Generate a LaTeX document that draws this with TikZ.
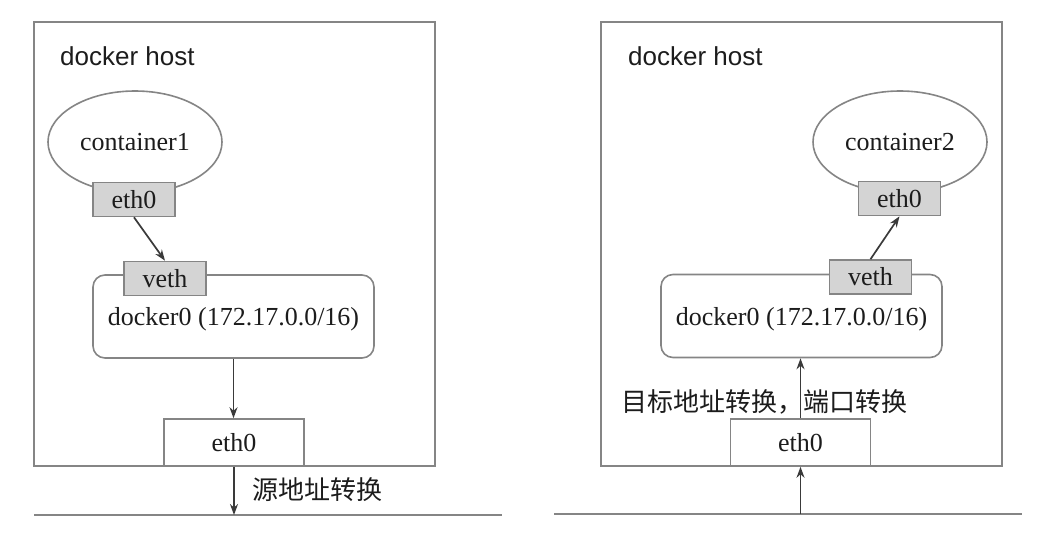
\documentclass[tikz,border=0pt]{standalone}
\usepackage{fontspec}
\setmainfont{Liberation Serif}
\newfontfamily\hostfont{Liberation Sans}
\newfontfamily\cjk{Noto Sans CJK SC}
\usetikzlibrary{shapes.geometric,arrows.meta}
\definecolor{edgegray}{HTML}{858585}
\definecolor{boxfill}{HTML}{D4D4D4}
\definecolor{arrgray}{HTML}{3A3A3A}
\definecolor{txt}{HTML}{1C1C1C}
\tikzset{
  hostbox/.style={draw=edgegray, line width=1.6pt, rectangle, inner sep=0pt},
  hosttitle/.style={font=\hostfont\fontsize{26}{30}\selectfont, text=txt, anchor=base west, inner sep=0pt},
  contell/.style={draw=edgegray, line width=1.6pt, ellipse, inner sep=0pt, minimum width=174pt, minimum height=102pt, font=\fontsize{26}{30}\selectfont, text=txt},
  graybox/.style={draw=edgegray, line width=1.6pt, fill=boxfill, rectangle, inner sep=0pt, minimum width=82pt, minimum height=34pt, font=\fontsize{26}{30}\selectfont, text=txt},
  bridge/.style={draw=edgegray, line width=1.6pt, rectangle, rounded corners=12pt, inner sep=0pt, minimum width=281pt, minimum height=83pt, font=\fontsize{26}{30}\selectfont, text=txt},
  whitebox/.style={draw=edgegray, line width=1.6pt, fill=white, rectangle, inner sep=0pt, minimum width=140pt, minimum height=47pt, font=\fontsize{26}{30}\selectfont, text=txt},
  arr/.style={draw=arrgray, line width=1.7pt, -{Stealth[length=11pt,width=8pt]}},
  ground/.style={draw=edgegray, line width=1.8pt},
  cjklabel/.style={font=\cjk\fontsize{26}{30}\selectfont, text=txt, inner sep=0pt, anchor=west}
}
\begin{document}
\begin{tikzpicture}[x=1pt,y=-1pt]
\useasboundingbox (0,0) rectangle (1056,536);
% ---------- left panel ----------
\node[hostbox, minimum width=401pt, minimum height=444pt] (host1) at (234.5,244) {};
\node[hosttitle] (title1) at (60,65) {docker host};
\node[contell] (cont1) at (135,142) {container1};
\node[graybox] (c1eth) at (134,199.5) {eth0};
\node[bridge, text depth=0pt] (br1) at (233.5,316.5) {docker0 (172.17.0.0/16)};
\node[graybox] (c1veth) at (165,278.5) {veth};
\node[whitebox] (heth1) at (234,442.5) {eth0};
\coordinate (g1a) at (34,515);
\coordinate (g1b) at (502,515);
\coordinate (g1) at (234,515);
\draw[ground] (g1a) -- (g1b);
\draw[arr] (c1eth.south) -- (c1veth.north);
\draw[arr] (br1.south) -- (br1.south |- heth1.north);
\draw[arr] (heth1.south) -- (g1);
\node[cjklabel] (nat1) at (252,490) {源地址转换};
% ---------- right panel ----------
\node[hostbox, minimum width=401pt, minimum height=444pt] (host2) at (801.5,244) {};
\node[hosttitle] (title2) at (628,65) {docker host};
\node[contell] (cont2) at (900,142) {container2};
\node[graybox] (c2eth) at (899.5,198.5) {eth0};
\node[bridge, text depth=0pt] (br2) at (801.5,316) {docker0 (172.17.0.0/16)};
\node[graybox] (c2veth) at (870.5,277) {veth};
\node[whitebox] (heth2) at (800.5,442.5) {eth0};
\coordinate (g2a) at (554,514);
\coordinate (g2b) at (1022,514);
\coordinate (g2) at (800.5,514);
\draw[ground] (g2a) -- (g2b);
\draw[arr] (c2veth.north) -- (c2eth.south);
\node[cjklabel] (nat2) at (621,402) {目标地址转换，端口转换};
\draw[arr] (heth2.north) -- (heth2.north |- br2.south);
\draw[arr] (g2) -- (heth2.south);
\end{tikzpicture}
\end{document}
